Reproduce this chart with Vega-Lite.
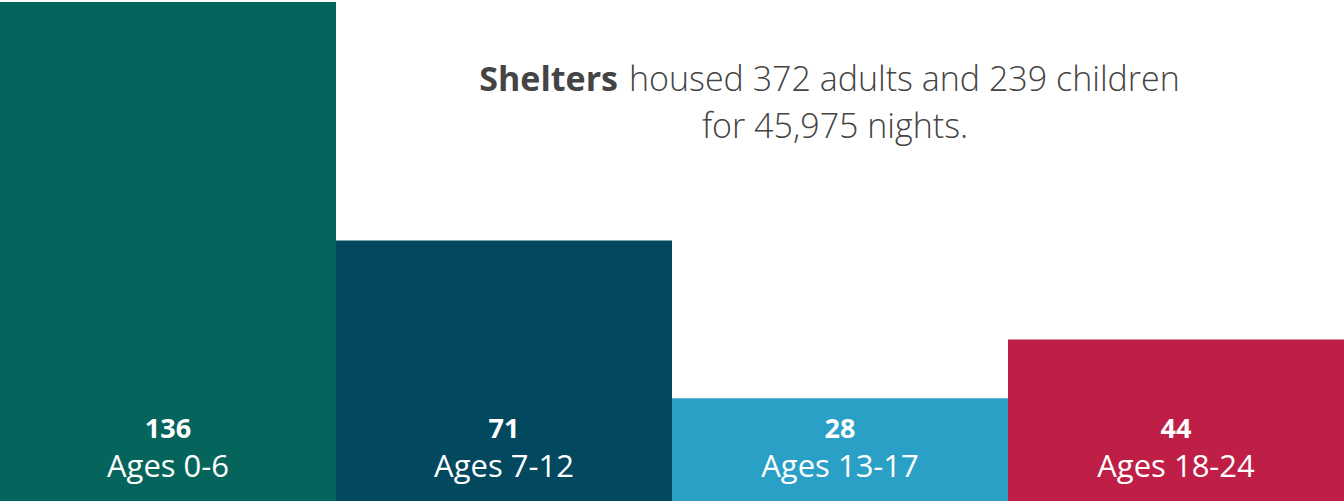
{
  "$schema": "https://vega.github.io/schema/vega-lite/v6.json",
  "width": 1344,
  "height": 504,
  "autosize": {"type": "fit", "contains": "padding"},
  "padding": {"top": 2, "bottom": 3, "left": 0, "right": 0},
  "background": "white",
  "config": {"view": {"stroke": null}, "font": "Open Sans"},
  "data": {
    "values": [
      {"age": "Ages 0-6", "count": 136},
      {"age": "Ages 7-12", "count": 71},
      {"age": "Ages 13-17", "count": 28},
      {"age": "Ages 18-24", "count": 44}
    ]
  },
  "encoding": {
    "x": {"field": "age", "type": "nominal", "sort": null, "axis": null,
          "scale": {"paddingInner": 0, "paddingOuter": 0}}
  },
  "layer": [
    {
      "mark": {"type": "bar"},
      "encoding": {
        "y": {"field": "count", "type": "quantitative", "axis": null,
              "scale": {"domain": [0, 136], "nice": false}},
        "color": {"field": "age", "type": "nominal", "sort": null, "legend": null,
                  "scale": {"domain": ["Ages 0-6", "Ages 7-12", "Ages 13-17", "Ages 18-24"],
                            "range": ["#05655D", "#02485F", "#2AA0C7", "#BF1F47"]}}
      }
    },
    {
      "mark": {"type": "text", "color": "white", "fontSize": 31, "baseline": "alphabetic", "dy": -24, "font": "Open Sans"},
      "encoding": {
        "y": {"datum": 0, "type": "quantitative"},
        "text": {"field": "age"}
      }
    },
    {
      "mark": {"type": "text", "color": "white", "fontSize": 27, "fontWeight": "bold", "baseline": "alphabetic", "dy": -63, "font": "Open Sans"},
      "encoding": {
        "y": {"datum": 0, "type": "quantitative"},
        "text": {"field": "count", "type": "quantitative"}
      }
    },
    {
      "data": {"values": [{"pos": "Ages 13-17", "t": "Shelters"}]},
      "mark": {"type": "text", "color": "#444444", "fontSize": 34, "fontWeight": "bold", "align": "right", "baseline": "alphabetic", "dx": -222, "dy": 89, "font": "Open Sans"},
      "encoding": {
        "x": {"field": "pos", "type": "nominal"},
        "y": {"datum": 136, "type": "quantitative"},
        "text": {"field": "t"}
      }
    },
    {
      "data": {"values": [{"pos": "Ages 13-17", "t": "housed 372 adults and 239 children"}]},
      "mark": {"type": "text", "color": "#444444", "fontSize": 34, "fontWeight": 300, "align": "left", "baseline": "alphabetic", "dx": -211, "dy": 89, "font": "Open Sans"},
      "encoding": {
        "x": {"field": "pos", "type": "nominal"},
        "y": {"datum": 136, "type": "quantitative"},
        "text": {"field": "t"}
      }
    },
    {
      "data": {"values": [{"pos": "Ages 13-17", "t": "for 45,975 nights."}]},
      "mark": {"type": "text", "color": "#444444", "fontSize": 34, "fontWeight": 300, "align": "center", "baseline": "alphabetic", "dx": -5, "dy": 136, "font": "Open Sans"},
      "encoding": {
        "x": {"field": "pos", "type": "nominal"},
        "y": {"datum": 136, "type": "quantitative"},
        "text": {"field": "t"}
      }
    }
  ]
}
